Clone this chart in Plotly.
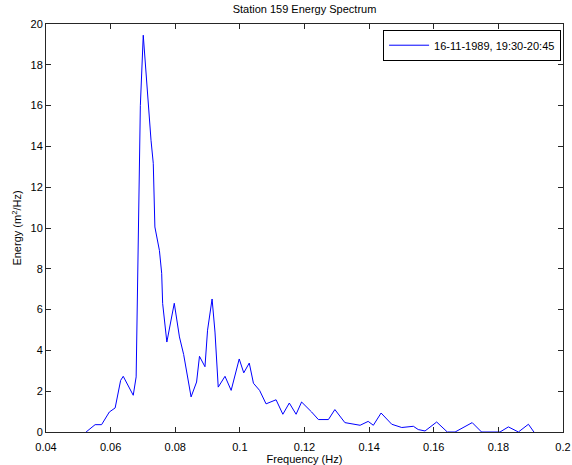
import plotly.graph_objects as go

# Wave energy spectrum, station 159 (frequency in Hz, energy density in m^2/Hz)
freq = [0.0524, 0.0552, 0.0572, 0.0596, 0.0614, 0.0631, 0.0639, 0.0670, 0.0679,
        0.0692, 0.0701, 0.0713, 0.0725, 0.0732, 0.0737, 0.0751, 0.0758, 0.0761,
        0.0774, 0.0797, 0.0813, 0.0826, 0.0849, 0.0866, 0.0875, 0.0892, 0.0900,
        0.0914, 0.0923, 0.0933, 0.0954, 0.0973, 0.0998, 0.1012, 0.1029, 0.1042,
        0.1061, 0.1081, 0.1112, 0.1133, 0.1153, 0.1174, 0.1191, 0.1222, 0.1243,
        0.1274, 0.1294, 0.1325, 0.1372, 0.1397, 0.1413, 0.1437, 0.1470, 0.1501,
        0.1537, 0.1552, 0.1573, 0.1609, 0.1642, 0.1666, 0.1681, 0.1719, 0.1748,
        0.1805, 0.1831, 0.1862, 0.1893, 0.1910]
energy = [0.00, 0.36, 0.36, 0.98, 1.18, 2.53, 2.73, 1.80, 2.70,
          16.0, 19.45, 16.75, 14.3, 13.17, 10.05, 8.9, 7.78, 6.30,
          4.41, 6.31, 4.66, 3.80, 1.72, 2.45, 3.71, 3.20, 4.99,
          6.52, 4.90, 2.20, 2.73, 2.04, 3.58, 2.90, 3.38, 2.39,
          2.04, 1.38, 1.58, 0.87, 1.42, 0.87, 1.47, 0.98, 0.61,
          0.61, 1.10, 0.46, 0.33, 0.52, 0.33, 0.93, 0.38, 0.22,
          0.28, 0.12, 0.05, 0.49, 0.00, 0.00, 0.12, 0.46, 0.00,
          0.00, 0.25, 0.00, 0.38, 0.00]

x_ticks = [0.04, 0.06, 0.08, 0.1, 0.12, 0.14, 0.16, 0.18, 0.2]
x_tick_text = ["0.04", "0.06", "0.08", "0.1", "0.12", "0.14", "0.16", "0.18", "0.2"]
y_ticks = [0, 2, 4, 6, 8, 10, 12, 14, 16, 18, 20]

series_name = "16-11-1989, 19:30-20:45"
FONT = "Liberation Sans, Arial, Helvetica, sans-serif"
AXIS_COLOR = "#262626"

fig = go.Figure()
fig.add_trace(go.Scatter(
    x=freq, y=energy, mode="lines", name=series_name,
    line=dict(color="#0000ff", width=1),
))

axis_common = dict(
    showline=True, linecolor=AXIS_COLOR, linewidth=1, mirror="ticks",
    ticks="inside", ticklen=5, tickcolor=AXIS_COLOR, tickwidth=1,
    showgrid=False, zeroline=False,
    tickfont=dict(family=FONT, size=11, color="#000000"),
)

fig.update_layout(
    width=572, height=465,
    margin=dict(l=46, r=9, t=24, b=33),
    paper_bgcolor="#ffffff", plot_bgcolor="#ffffff",
    font=dict(family=FONT, size=11, color="#000000"),
    title=dict(text="Station 159 Energy Spectrum", x=0.5, xref="paper",
               y=1 - 9.5 / 465, yref="container", yanchor="middle",
               xanchor="center", font=dict(family=FONT, size=11, color="#000000")),
    showlegend=True,
    legend=dict(x=0.652, y=0.986, xanchor="left", yanchor="top",
                bgcolor="#ffffff", bordercolor="#000000", borderwidth=1,
                font=dict(family=FONT, size=11, color="#000000"),
                itemwidth=40, tracegroupgap=0),
)
fig.update_xaxes(range=[0.04, 0.2], tickvals=x_ticks, ticktext=x_tick_text,
                 ticklabelstandoff=5, automargin=False,
                 title=dict(text="Frequency (Hz)", standoff=3,
                            font=dict(family=FONT, size=11)),
                 **axis_common)
fig.update_yaxes(range=[0, 20], tickvals=y_ticks,
                 title=dict(text="Energy (m<sup>2</sup>/Hz)", standoff=6,
                            font=dict(family=FONT, size=11)),
                 **axis_common)

fig.write_html("out.html")
